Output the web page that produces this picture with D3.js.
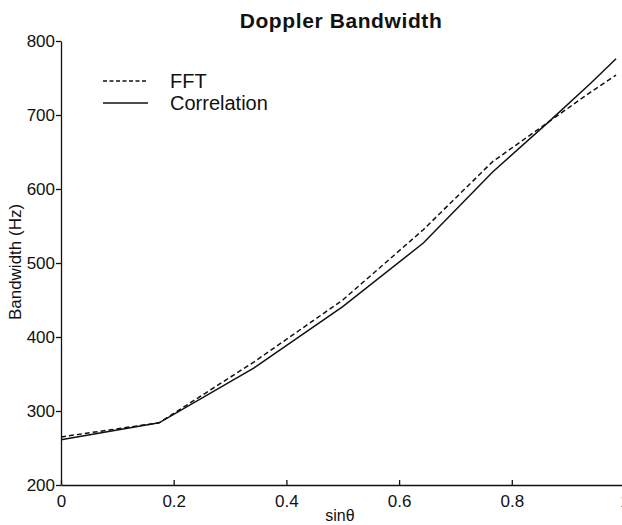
<!DOCTYPE html>
<html>
<head>
<meta charset="utf-8">
<script src="https://cdn.jsdelivr.net/npm/d3@7"></script>
<style>
  body { margin: 0; background: #fff; }
  text { font-family: Arial, "Liberation Sans", sans-serif; fill: #111; }
</style>
</head>
<body>
<div id="chart"></div>
<script>
// data (sin of 0..80 degrees)
var sinTheta = [0, 0.174, 0.342, 0.5, 0.643, 0.766, 0.866, 0.940, 0.985];
var fftBw    = [265, 284, 366, 450, 545, 637, 691, 731, 754];
var corrBw   = [261, 284, 358, 441, 527, 623, 691, 743, 776];
var xTicks = [0, 0.2, 0.4, 0.6, 0.8, 1];
var yTicks = [200, 300, 400, 500, 600, 700, 800];

var W = 622, H = 525;

var svg = d3.select("#chart").append("svg")
    .attr("width", W)
    .attr("height", H);

var x = d3.scaleLinear().domain([0, 1]).range([61, 624.5]);
var y = d3.scaleLinear().domain([200, 800]).range([485, 41]);

// title
svg.append("text")
    .attr("x", 341).attr("y", 28)
    .attr("text-anchor", "middle")
    .style("font-size", "21px")
    .style("font-weight", "bold")
    .style("letter-spacing", "0.6px")
    .text("Doppler Bandwidth");

// axes
var xAxis = svg.append("g")
    .attr("transform", "translate(0," + y(200) + ")")
    .call(d3.axisBottom(x).tickValues(xTicks).tickSizeInner(-5).tickSizeOuter(0)
      .tickFormat(function(d) { return d === 0 || d === 1 ? d : d3.format(".1f")(d); }));
xAxis.selectAll("text").attr("y", 10).style("font-size", "17px");

var yAxis = svg.append("g")
    .attr("transform", "translate(" + x(0) + ",0)")
    .call(d3.axisLeft(y).tickValues(yTicks).tickSize(5).tickSizeOuter(0));
yAxis.selectAll("text").attr("x", -6).style("font-size", "17px");

svg.selectAll(".domain, .tick line").attr("stroke", "#111").attr("stroke-width", 1.3);
svg.selectAll(".tick text").style("fill", "#111").style("font-family", "Arial, 'Liberation Sans', sans-serif");

// axis labels
svg.append("text")
    .attr("x", 340).attr("y", 521)
    .attr("text-anchor", "middle")
    .style("font-size", "16px")
    .text("sin\u03b8");

svg.append("text")
    .attr("transform", "translate(21,262) rotate(-90)")
    .attr("text-anchor", "middle")
    .style("font-size", "17px")
    .text("Bandwidth (Hz)");

// lines
var line = function(vals) {
  return d3.line()
    .x(function(d, i) { return x(sinTheta[i]); })
    .y(function(d) { return y(d); })(vals);
};

svg.append("path")
    .attr("d", line(fftBw))
    .attr("fill", "none")
    .attr("stroke", "#111")
    .attr("stroke-width", 1.5)
    .attr("stroke-dasharray", "5,3");

svg.append("path")
    .attr("d", line(corrBw))
    .attr("fill", "none")
    .attr("stroke", "#111")
    .attr("stroke-width", 1.5);

// legend
var legend = [
  {name: "FFT", dash: "4,2.5", yy: 81},
  {name: "Correlation", dash: null, yy: 103}
];
legend.forEach(function(l) {
  svg.append("line")
      .attr("x1", 103).attr("x2", 148)
      .attr("y1", l.yy).attr("y2", l.yy)
      .attr("stroke", "#111")
      .attr("stroke-width", 1.3)
      .attr("stroke-dasharray", l.dash);
  svg.append("text")
      .attr("x", 170).attr("y", l.yy + 7)
      .style("font-size", "20px")
      .text(l.name);
});
</script>
</body>
</html>
